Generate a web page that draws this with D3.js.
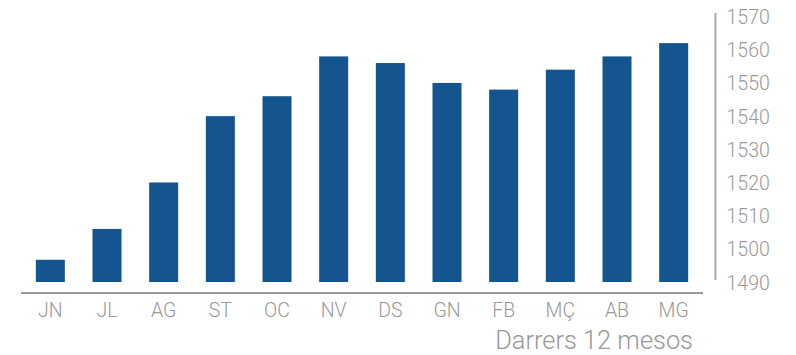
<!DOCTYPE html>
<html><head><meta charset="utf-8">
<script src="https://cdn.jsdelivr.net/npm/d3@7"></script>
<style>
html,body{margin:0;padding:0;background:#fff;}
svg{display:block;}
text{font-family:"Roboto","Liberation Sans",sans-serif;font-weight:300;fill:#999;}
</style></head>
<body><svg id="c" width="796" height="355"></svg>
<script>
const months = ["JN","JL","AG","ST","OC","NV","DS","GN","FB","MÇ","AB","MG"];
const values = [1496.7,1506,1520,1540,1546,1558,1556,1550,1548,1554,1558,1562];
const yTicks = [1490,1500,1510,1520,1530,1540,1550,1560,1570];
const caption = "Darrers 12 mesos";

const svg = d3.select("#c");
const x = d3.scaleBand().domain(months).range([22,702]).paddingInner(0.488).paddingOuter(0.244);
const y = d3.scaleLinear().domain([1490,1570]).range([282,16.6]);

svg.append("g").selectAll("rect").data(months).join("rect")
  .attr("x", d=>x(d)).attr("width", x.bandwidth())
  .attr("y", (d,i)=>y(values[i])).attr("height",(d,i)=>y(1490)-y(values[i]))
  .attr("fill","#14558f");

// x axis
const xa = svg.append("g").attr("transform","translate(0,293)")
  .call(d3.axisBottom(x).tickSize(0).tickPadding(0));
xa.select(".domain").attr("d","M21,0H703").attr("stroke","#9a9a9a").attr("stroke-width",2);
xa.selectAll(".tick text").attr("y",24).attr("dy",null).attr("font-size","19.5px")
  .style("font-family",'"Roboto","Liberation Sans",sans-serif').style("font-weight",300).attr("fill","#999");

// y axis
const ya = svg.append("g").attr("transform","translate(715.5,0)")
  .call(d3.axisRight(y).tickValues(yTicks).tickSize(0).tickPadding(11).tickFormat(d3.format("d")));
ya.select(".domain").attr("d","M0,13V280").attr("stroke","#aaa").attr("stroke-width",2);
ya.selectAll(".tick text").attr("dy","0.36em").attr("font-size","19.5px")
  .style("font-family",'"Roboto","Liberation Sans",sans-serif').style("font-weight",300).attr("fill","#999");

svg.append("text").attr("x",693).attr("y",349).attr("text-anchor","end")
  .attr("font-size","25.4px").text(caption);
</script></body></html>
